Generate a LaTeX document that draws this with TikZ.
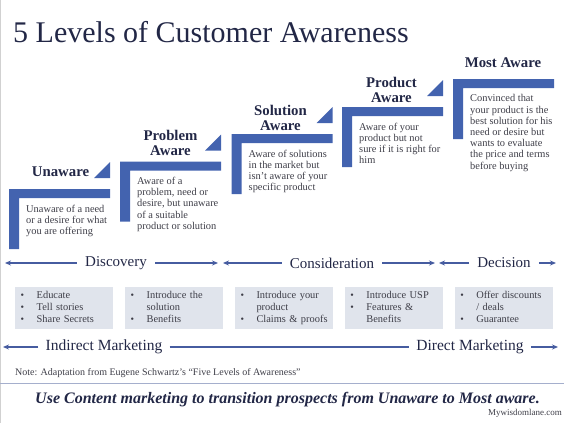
\documentclass[tikz,border=0pt]{standalone}
\usepackage{fontspec}
\setmainfont{Liberation Serif}
\usepackage{tikz}
\usepackage{xcolor}
\usetikzlibrary{positioning}
\usetikzlibrary{arrows.meta}
\definecolor{stepblue}{RGB}{67,99,175}
\definecolor{titlenavy}{RGB}{34,39,70}
\definecolor{bodygray}{RGB}{62,62,72}
\definecolor{boxgray}{RGB}{224,228,236}
\definecolor{arrowblue}{RGB}{70,92,160}
\definecolor{sepblue}{RGB}{165,175,205}
\tikzstyle{bar} = [fill=stepblue]
\tikzstyle{heading} = [anchor=north, align=center, inner sep=0pt, text=titlenavy, font=\fontsize{14.8}{15}\selectfont\bfseries]
\tikzstyle{bodytext} = [anchor=north west, align=left, inner sep=0pt, text=bodygray, font=\fontsize{10.4}{11.2}\selectfont]
\tikzstyle{listbox} = [rectangle, anchor=north west, fill=boxgray, minimum width=98pt, minimum height=42pt, text width=87pt, inner xsep=5.5pt, inner ysep=0pt, text=bodygray, font=\fontsize{10.4}{12}\selectfont]
\tikzstyle{phase} = [inner xsep=8pt, inner ysep=2pt, text=titlenavy, font=\fontsize{15}{15}\selectfont]
\tikzstyle{market} = [inner xsep=7pt, inner ysep=2pt, text=titlenavy, font=\fontsize{15.5}{15.5}\selectfont]
\tikzstyle{arrow} = [line width=1.1pt, draw=arrowblue, ->, >={Stealth[length=6pt,width=5pt]}]
\tikzstyle{line} = [line width=1.1pt, draw=arrowblue]
\newcommand{\bul}{{\fontsize{10}{12}\selectfont •}}

\begin{document}
\begin{tikzpicture}[x=1pt, y=-1pt]
        \useasboundingbox (0,0) rectangle (564,423);
        \draw [black!18, line width=1pt] (0.5,0) -- (0.5,423);

        \node (title) [anchor=base west, inner sep=0pt, text=titlenavy, font=\fontsize{30}{30}\selectfont] at (13,42) {5 Levels of Customer Awareness};

        % steps
        \fill [bar] (9,189) -- ++(101,0) -- ++(0,9) -- ++(-91,0) -- ++(0,51) -- ++(-10,0) -- cycle;
        \fill [bar] (94,178) -- ++(16,0) -- ++(0,-16) -- cycle;
        \fill [bar] (120,161.5) -- ++(101,0) -- ++(0,9) -- ++(-91,0) -- ++(0,51) -- ++(-10,0) -- cycle;
        \fill [bar] (205,150.5) -- ++(16,0) -- ++(0,-16) -- cycle;
        \fill [bar] (231.5,134) -- ++(101,0) -- ++(0,9) -- ++(-91,0) -- ++(0,51) -- ++(-10,0) -- cycle;
        \fill [bar] (316.5,123) -- ++(16,0) -- ++(0,-16) -- cycle;
        \fill [bar] (342,107) -- ++(101,0) -- ++(0,9) -- ++(-91,0) -- ++(0,51) -- ++(-10,0) -- cycle;
        \fill [bar] (427,96) -- ++(16,0) -- ++(0,-16) -- cycle;
        \fill [bar] (453,79) -- ++(101,0) -- ++(0,9) -- ++(-91,0) -- ++(0,51) -- ++(-10,0) -- cycle;

        \node (unaware) [heading] at (60.5,166.5) {Unaware};
        \node (problemAware) [heading] at (170.5,130.5) {Problem\\Aware};
        \node (solutionAware) [heading] at (280.5,105) {Solution\\Aware};
        \node (productAware) [heading] at (391.5,77.5) {Product\\Aware};
        \node (mostAware) [heading] at (503,58) {Most Aware};

        \node (unawareText) [bodytext] at (26,204.5) {Unaware of a need\\or a desire for what\\you are offering};
        \node (problemText) [bodytext] at (137,177) {Aware of a\\problem, need or\\desire, but unaware\\of a suitable\\product or solution};
        \node (solutionText) [bodytext] at (248.5,149.5) {Aware of solutions\\in the market but\\isn't aware of your\\specific product};
        \node (productText) [bodytext] at (359,122.5) {Aware of your\\product but not\\sure if it is right for\\him};
        \node (mostText) [bodytext] at (470,94.5) {Convinced that\\your product is the\\best solution for his\\need or desire but\\wants to evaluate\\the price and terms\\before buying};

        % phases
        \coordinate (discoveryL) at (5,263);
        \coordinate (discoveryR) at (218,263);
        \coordinate (considerationL) at (223,263);
        \coordinate (considerationR) at (435,263);
        \coordinate (decisionL) at (439,263);
        \coordinate (decisionR) at (556,263);
        \node (discovery) [phase] at (116,263) {Discovery};
        \node (consideration) [phase] at (332,263) {Consideration};
        \node (decision) [phase] at (504,263) {Decision};
        \draw [arrow] (discovery) -- (discoveryL);
        \draw [arrow] (discovery) -- (discoveryR);
        \draw [arrow] (consideration) -- (considerationL);
        \draw [arrow] (consideration) -- (considerationR);
        \draw [arrow] (decision) -- (decisionL);
        \draw [arrow] (decision) -- (decisionR);

        \node (educateBox) [listbox] at (15,287) {\begin{tabular}{@{}p{16pt}@{}l@{}}\bul & Educate\\ \bul & Tell stories\\ \bul & Share Secrets\end{tabular}};
        \node (solutionBox) [listbox, right=11.5pt of educateBox] {\begin{tabular}{@{}p{16pt}@{}l@{}}\bul & Introduce the\\ & solution\\ \bul & Benefits\end{tabular}};
        \node (productBox) [listbox, right=11.5pt of solutionBox] {\begin{tabular}{@{}p{16pt}@{}l@{}}\bul & Introduce your\\ & product\\ \bul & Claims \& proofs\end{tabular}};
        \node (uspBox) [listbox, right=11.5pt of productBox] {\begin{tabular}{@{}p{16pt}@{}l@{}}\bul & Introduce USP\\ \bul & Features \&\\ & Benefits\end{tabular}};
        \node (offerBox) [listbox, right=11.5pt of uspBox] {\begin{tabular}{@{}p{16pt}@{}l@{}}\bul & Offer discounts\\ & / deals\\ \bul & Guarantee\end{tabular}};

        % marketing
        \coordinate (indirectL) at (3,347);
        \coordinate (directR) at (558,347);
        \node (indirect) [market] at (104,347) {Indirect Marketing};
        \node (direct) [market] at (470,347) {Direct Marketing};
        \draw [arrow] (indirect) -- (indirectL);
        \draw [line] (indirect) -- (direct);
        \draw [arrow] (direct) -- (directR);

        \node (note) [anchor=west, inner sep=0pt, text=bodygray, font=\fontsize{10}{10}\selectfont] at (15,373) {Note: Adaptation from Eugene Schwartz's ``Five Levels of Awareness''};
        \draw [sepblue, line width=1pt] (0,383) -- (564,383);
        \node (slogan) [inner sep=0pt, text=titlenavy, font=\fontsize{16}{16}\selectfont\bfseries\itshape] at (287.5,400) {Use Content marketing to transition prospects from Unaware to Most aware.};
        \node (site) [anchor=east, inner sep=0pt, text=bodygray, font=\fontsize{9}{9}\selectfont] at (562,413) {Mywisdomlane.com};
    \end{tikzpicture}
\end{document}
